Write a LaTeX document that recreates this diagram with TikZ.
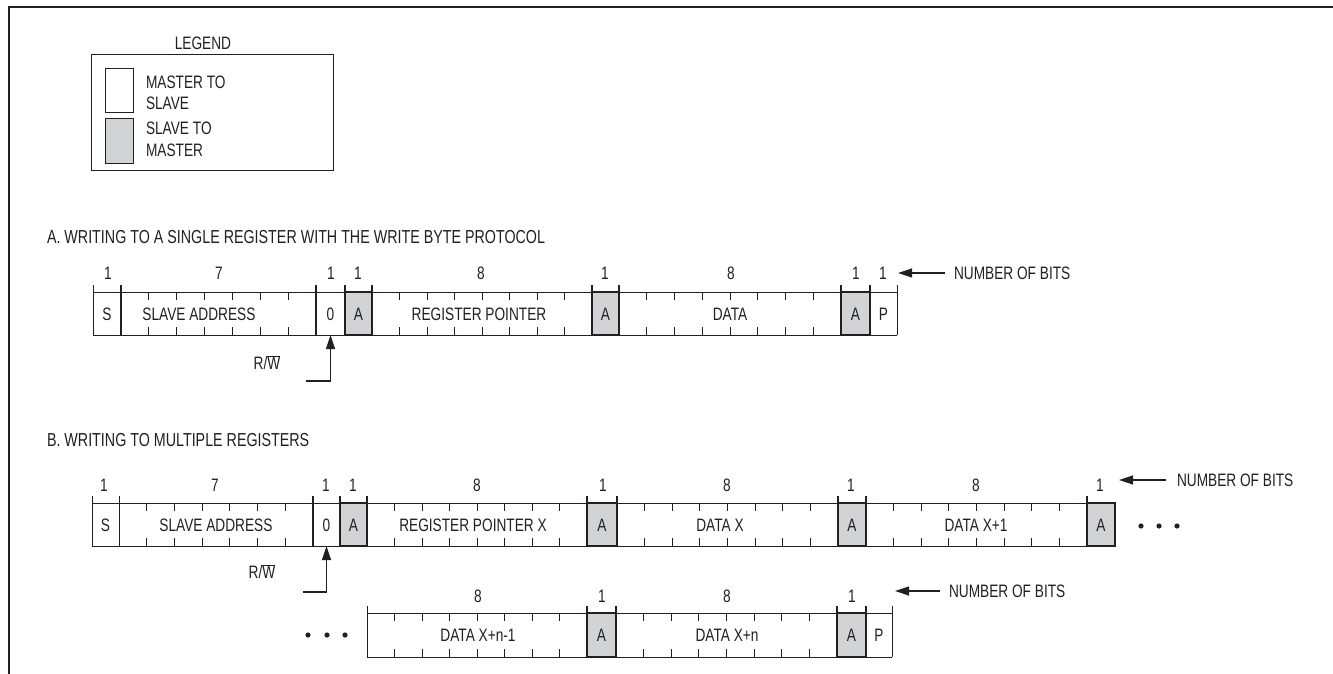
\documentclass[tikz,border=0pt]{standalone}
\usepackage{fontspec}
\setmainfont{Liberation Sans}[FakeStretch=0.76]
\usetikzlibrary{arrows.meta}
\definecolor{ink}{HTML}{231F20}
\definecolor{ackgray}{HTML}{D1D3D4}
\tikzset{
  txt/.style={font=\fontsize{18}{21}\selectfont, text=ink, inner sep=0pt, outer sep=0pt, text height=13pt, text depth=0pt},
  title/.style={txt, font=\fontsize{18.8}{21}\selectfont},
  field/.style={txt, minimum height=43pt},
  ack/.style={field, fill=ackgray, draw=ink, line width=1.7pt},
  edge/.style={draw=ink, line width=1pt},
  bold/.style={draw=ink, line width=1.7pt},
  tiparrow/.style={draw=ink, line width=1.2pt, -{Triangle[length=14pt,width=9pt]}},
  dot/.style={fill=ink, draw=none},
}
\newcommand\bitticks[5]{\foreach \k in {1,...,#5}{\draw[edge] ({#1+(#2-#1)*\k/(#5+1)},#3) -- ++(0,8) ({#1+(#2-#1)*\k/(#5+1)},#4) -- ++(0,-8);}}
\newcommand\bnd[4][edge]{\draw[#1] (#2,#3-7) -- (#2,#4);}
\begin{document}
\begin{tikzpicture}[x=1pt,y=-1pt]
\useasboundingbox (0,0) rectangle (1333,674);
% frame
\draw[draw=ink, line width=2.4pt] (9,674) -- (9,7) -- (1333,7);

% legend
\node[txt] (legtitle) at (203,43) {LEGEND};
\draw[edge] (91,55) rectangle (333,170);
\draw[edge] (105,69) rectangle (133,113);
\draw[edge, fill=ackgray] (105,119) rectangle (133,163);
\node[txt, anchor=west] (leg1) at (146,82) {MASTER TO};
\node[txt, anchor=west] (leg2) at (146,103) {SLAVE};
\node[txt, anchor=west] (leg3) at (146,128) {SLAVE TO};
\node[txt, anchor=west] (leg4) at (146,150) {MASTER};

% ---------- A ----------
\node[title, anchor=west] (titleA) at (47,237) {A. WRITING TO A SINGLE REGISTER WITH THE WRITE BYTE PROTOCOL};
\draw[edge] (93,292) -- (897,292) (93,335) -- (897,335);
\bitticks{121}{316}{292}{335}{6}
\bitticks{372}{592}{292}{335}{7}
\bitticks{619}{841}{292}{335}{7}
\bnd{93}{292}{335}
\bnd[bold]{121}{292}{335}
\bnd[bold]{316}{292}{335}
\bnd[bold]{345}{292}{335}
\bnd[bold]{372}{292}{335}
\bnd[bold]{592}{292}{335}
\bnd[bold]{619}{292}{335}
\bnd[bold]{841}{292}{335}
\bnd[bold]{870}{292}{335}
\bnd{897}{292}{335}
\node[field, minimum width=28pt] (aS) at (107,313.5) {S};
\node[field] (aAddr) at (199,313.5) {SLAVE ADDRESS};
\node[field, minimum width=29pt] (aZero) at (330.5,313.5) {0};
\node[ack, minimum width=27pt] (aA1) at (358.5,313.5) {A};
\node[field] (aReg) at (479,313.5) {REGISTER POINTER};
\node[ack, minimum width=27pt] (aA2) at (605.5,313.5) {A};
\node[field] (aData) at (730,313.5) {DATA};
\node[ack, minimum width=29pt] (aA3) at (855.5,313.5) {A};
\node[field, minimum width=27pt] (aP) at (883.5,313.5) {P};
\foreach \xx/\nn/\id in {108/1/a, 219/7/b, 331/1/c, 358/1/d, 481/8/e, 605/1/f, 731/8/g, 856/1/h, 883/1/i}
  \node[txt] (nA\id) at (\xx,273) {\nn};
\node[txt, anchor=west] (nbA) at (954,273) {NUMBER OF BITS};
\coordinate (nbAtip) at (898,273);
\draw[tiparrow, shorten <=9pt] (nbA.west) -- (nbAtip);
\node[txt] (rwA) at (267,363) {R/$\overline{\mbox{W}}$};
\coordinate (rwAfoot) at (306,381);
\draw[tiparrow] (rwAfoot) -| (aZero.south);

% ---------- B ----------
\node[title, anchor=west] (titleB) at (47,440) {B. WRITING TO MULTIPLE REGISTERS};
\draw[edge] (92,503) -- (1115,503) (92,546) -- (1115,546);
\bitticks{119}{313}{503}{546}{6}
\bitticks{367}{587}{503}{546}{7}
\bitticks{617}{838}{503}{546}{7}
\bitticks{866}{1087}{503}{546}{7}
\bnd{92}{503}{546}
\bnd{119}{503}{546}
\bnd[bold]{313}{503}{546}
\bnd[bold]{340}{503}{546}
\bnd[bold]{367}{503}{546}
\bnd[bold]{587}{503}{546}
\bnd[bold]{617}{503}{546}
\bnd[bold]{838}{503}{546}
\bnd[bold]{866}{503}{546}
\bnd[bold]{1087}{503}{546}
\node[field, minimum width=27pt] (bS) at (105.5,524.5) {S};
\node[field] (bAddr) at (216,524.5) {SLAVE ADDRESS};
\node[field, minimum width=27pt] (bZero) at (326.5,524.5) {0};
\node[ack, minimum width=27pt] (bA1) at (353.5,524.5) {A};
\node[field] (bReg) at (473,524.5) {REGISTER POINTER X};
\node[ack, minimum width=30pt] (bA2) at (602,524.5) {A};
\node[field] (bData) at (720,524.5) {DATA X};
\node[ack, minimum width=28pt] (bA3) at (852,524.5) {A};
\node[field] (bData1) at (976,524.5) {DATA X+1};
\node[ack, minimum width=28pt] (bA4) at (1101,524.5) {A};
\foreach \xx/\nn/\id in {104/1/a, 215/7/b, 326/1/c, 353/1/d, 477/8/e, 603/1/f, 727/8/g, 851/1/h, 976/8/i, 1100/1/j}
  \node[txt] (nB\id) at (\xx,485) {\nn};
\node[txt, anchor=west] (nbB) at (1177,480) {NUMBER OF BITS};
\coordinate (nbBtip) at (1119,480);
\draw[tiparrow, shorten <=11pt] (nbB.west) -- (nbBtip);
\foreach \xx/\id in {1141/a,1159/b,1177/c} \fill[dot] (\xx,526) circle (2.6pt) coordinate (dB\id);
\node[txt] (rwB) at (262,572) {R/$\overline{\mbox{W}}$};
\coordinate (rwBfoot) at (303,592);
\draw[tiparrow] (rwBfoot) -| (bZero.south);

% ---------- C ----------
\foreach \xx/\id in {308/a,327/b,345/c} \fill[dot] (\xx,635) circle (2.6pt) coordinate (dC\id);
\draw[edge] (367,613) -- (892,613) (367,657) -- (892,657);
\bitticks{367}{587}{613}{657}{7}
\bitticks{616}{837}{613}{657}{7}
\bnd{367}{613}{657}
\bnd[bold]{587}{613}{657}
\bnd[bold]{616}{613}{657}
\bnd[bold]{837}{613}{657}
\bnd[bold]{866}{613}{657}
\bnd{892}{613}{657}
\node[field] (cData1) at (478,635) {DATA X+n-1};
\node[ack, minimum width=29pt, minimum height=44pt] (cA1) at (601.5,635) {A};
\node[field] (cData2) at (727,635) {DATA X+n};
\node[ack, minimum width=29pt, minimum height=44pt] (cA2) at (851.5,635) {A};
\node[field, minimum width=26pt] (cP) at (879,635) {P};
\foreach \xx/\nn/\id in {478/8/a, 602/1/b, 727/8/c, 852/1/d}
  \node[txt] (nC\id) at (\xx,596) {\nn};
\node[txt, anchor=west] (nbC) at (949,591) {NUMBER OF BITS};
\coordinate (nbCtip) at (895,591);
\draw[tiparrow, shorten <=9pt] (nbC.west) -- (nbCtip);
\end{tikzpicture}
\end{document}
